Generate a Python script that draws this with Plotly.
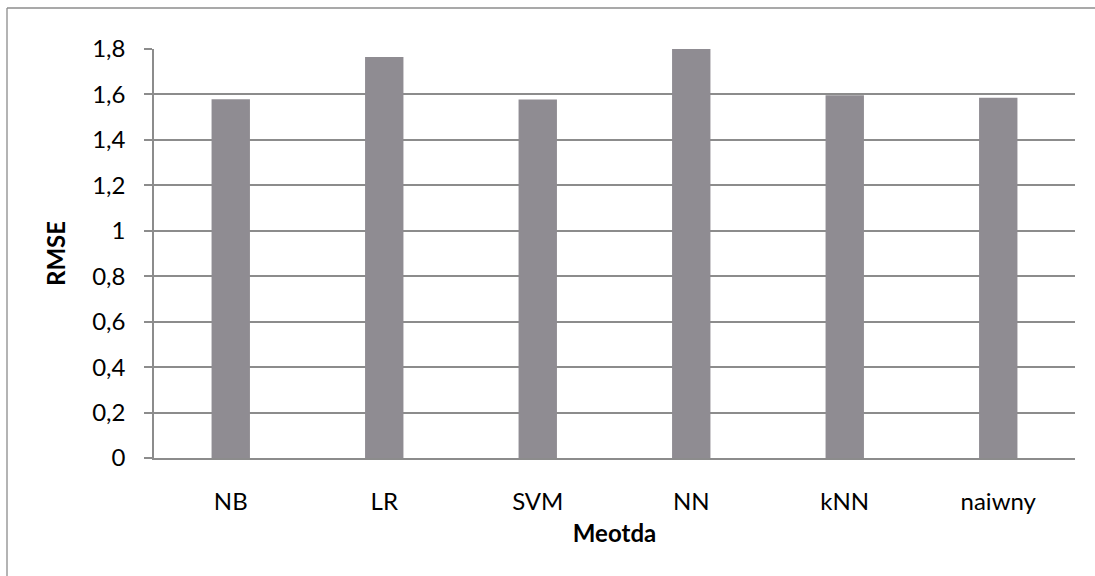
import plotly.graph_objects as go

# RMSE per method
methods = ["NB", "LR", "SVM", "NN", "kNN", "naiwny"]
rmse = [1.579, 1.765, 1.578, 1.800, 1.597, 1.585]

y_ticks = [0, 0.2, 0.4, 0.6, 0.8, 1.0, 1.2, 1.4, 1.6, 1.8]
y_tick_text = ["0", "0,2", "0,4", "0,6", "0,8", "1", "1,2", "1,4", "1,6", "1,8"]

W, H = 1095, 576
ml, mr, mt, mb = 154, 20, 49, 118
pw, ph = W - ml - mr, H - mt - mb

bar_color = "#8f8c92"
grid_color = "#8c8c8c"
font_family = "Lato, 'Open Sans', sans-serif"

fig = go.Figure(
    go.Bar(
        x=methods,
        y=rmse,
        marker=dict(color=bar_color, line=dict(width=0)),
        width=0.25,
        hoverinfo="x+y",
    )
)

fig.update_layout(
    width=W,
    height=H,
    margin=dict(l=ml, r=mr, t=mt, b=mb, pad=0),
    paper_bgcolor="white",
    plot_bgcolor="white",
    showlegend=False,
    font=dict(family=font_family, size=24, color="#000000"),
)

fig.update_xaxes(
    showgrid=False,
    showline=True,
    linecolor=grid_color,
    linewidth=1.5,
    ticks="",
    ticklabelstandoff=21,
    title=dict(text="<b>Meotda</b>", font=dict(size=24), standoff=12),
)

fig.update_yaxes(
    range=[0, 1.8],
    tickvals=y_ticks,
    ticktext=y_tick_text,
    showgrid=True,
    gridcolor=grid_color,
    gridwidth=1.5,
    zeroline=False,
    showline=True,
    linecolor=grid_color,
    linewidth=1.5,
    ticks="outside",
    ticklen=8,
    tickwidth=1.5,
    tickcolor=grid_color,
    ticklabelstandoff=14,
    title=dict(text="<b>RMSE</b>", font=dict(size=24), standoff=20),
)

# Outer chart frame: top and left edges (the rest runs off the page)
frame_x0 = (7 - ml) / pw
frame_y1 = (mt + ph - 8) / ph
frame_style = dict(color="#8c8c8c", width=1.3)
fig.add_shape(type="line", xref="paper", yref="paper",
              x0=frame_x0, x1=(W + 40 - ml) / pw, y0=frame_y1, y1=frame_y1,
              line=frame_style, layer="below")
fig.add_shape(type="line", xref="paper", yref="paper",
              x0=frame_x0, x1=frame_x0, y0=frame_y1, y1=-(H + 40 - mt - ph) / ph,
              line=frame_style, layer="below")

fig.write_html("out.html")
